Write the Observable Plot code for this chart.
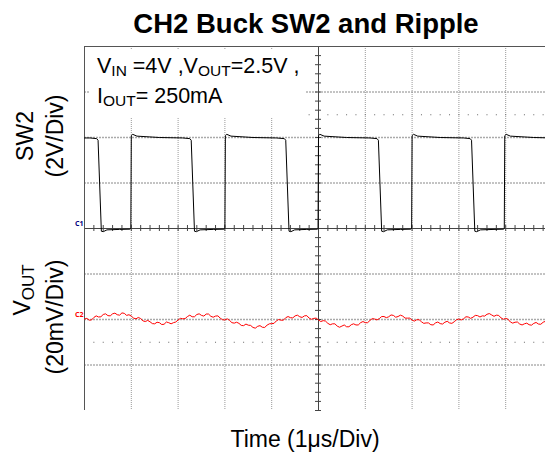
<!DOCTYPE html>
<html><head><meta charset="utf-8">
<script src="https://cdn.jsdelivr.net/npm/d3@7"></script>
<script src="https://cdn.jsdelivr.net/npm/@observablehq/plot@0.6"></script>
<style>
html,body{margin:0;padding:0;background:#fff;overflow:hidden;}
#wrap{position:relative;width:545px;height:453px;overflow:hidden;font-family:"Liberation Sans",Arial,sans-serif;color:#000;}
#wrap svg{position:absolute;left:0;top:0;overflow:hidden;}
.lbl{position:absolute;white-space:nowrap;line-height:1;}
.rot{transform:translate(-50%,-50%) rotate(-90deg);}
#title{left:306px;top:10px;transform:translateX(-50%);font-size:27.5px;font-weight:bold;}
#xlabel{left:305px;top:428px;transform:translateX(-50%);font-size:23px;}
#box{position:absolute;left:89px;top:50px;width:216px;height:68px;background:#fff;}
#note{position:absolute;left:97px;top:51px;font-size:21.5px;line-height:30px;white-space:nowrap;}
.sub{font-size:15.5px;vertical-align:-3px;line-height:0;}
.ylab{font-size:23px;}
.vsub{font-size:17px;vertical-align:-4px;line-height:0;}
</style></head><body><div id="wrap"></div>
<script>
// ---- data (read from the reference scope capture) ----
// time axis: microseconds (1 us / div), 10 divisions
const timeDomain = [0, 10];
const verticalDivs = [-4, 4];
// channel reference levels (in divisions) and scales
const channelNames = ["C1", "C2"];
const channelColors = ["#000080", "#ff0000"];
const channelOffsetDiv = [0, -2];
const sw2VoltsPerDiv = 2;
const rippleMvPerDiv = 20;

// SW2 switching node (V)
const sw2Time = [0.00,0.12,0.26,0.29,0.36,0.40,0.48,0.75,0.97,0.99,1.00,1.03,1.12,1.60,2.10,2.25,2.28,2.35,2.39,2.47,2.75,2.98,3.00,3.01,3.04,3.13,3.60,4.10,4.27,4.30,4.37,4.41,4.49,4.75,4.98,4.99,5.00,5.03,5.12,5.60,6.10,6.25,6.28,6.35,6.39,6.47,6.75,6.97,6.99,7.00,7.03,7.12,7.60,8.10,8.24,8.27,8.34,8.38,8.46,8.75,8.95,8.97,8.98,9.01,9.10,9.60,10.0];
const sw2Volts = [3.98,3.98,3.95,3.88,-0.12,-0.14,-0.06,-0.04,-0.03,0.00,4.08,4.14,4.06,4.00,3.98,3.95,3.88,-0.12,-0.14,-0.06,-0.04,-0.03,0.00,4.08,4.14,4.06,4.00,3.98,3.95,3.88,-0.12,-0.14,-0.06,-0.04,-0.03,0.00,4.08,4.14,4.06,4.00,3.98,3.95,3.88,-0.12,-0.14,-0.06,-0.04,-0.03,0.00,4.08,4.14,4.06,4.00,3.98,3.95,3.88,-0.12,-0.14,-0.06,-0.04,-0.03,0.00,4.08,4.14,4.06,4.00,3.98];

// VOUT ripple (mV, AC around the C2 reference)
const rippleTime = [
0.00,0.05,0.10,0.15,0.20,0.25,0.30,0.35,0.40,0.45,0.50,0.55,0.60,0.65,0.70,0.75,0.80,0.85,0.90,0.95,
1.00,1.05,1.10,1.15,1.20,1.25,1.30,1.35,1.40,1.45,1.50,1.55,1.60,1.65,1.70,1.75,1.80,1.85,1.90,1.95,
2.00,2.05,2.10,2.15,2.20,2.25,2.30,2.35,2.40,2.45,2.50,2.55,2.60,2.65,2.70,2.75,2.80,2.85,2.90,2.95,
3.00,3.05,3.10,3.15,3.20,3.25,3.30,3.35,3.40,3.45,3.50,3.55,3.60,3.65,3.70,3.75,3.80,3.85,3.90,3.95,
4.00,4.05,4.10,4.15,4.20,4.25,4.30,4.35,4.40,4.45,4.50,4.55,4.60,4.65,4.70,4.75,4.80,4.85,4.90,4.95,
5.00,5.05,5.10,5.15,5.20,5.25,5.30,5.35,5.40,5.45,5.50,5.55,5.60,5.65,5.70,5.75,5.80,5.85,5.90,5.95,
6.00,6.05,6.10,6.15,6.20,6.25,6.30,6.35,6.40,6.45,6.50,6.55,6.60,6.65,6.70,6.75,6.80,6.85,6.90,6.95,
7.00,7.05,7.10,7.15,7.20,7.25,7.30,7.35,7.40,7.45,7.50,7.55,7.60,7.65,7.70,7.75,7.80,7.85,7.90,7.95,
8.00,8.05,8.10,8.15,8.20,8.25,8.30,8.35,8.40,8.45,8.50,8.55,8.60,8.65,8.70,8.75,8.80,8.85,8.90,8.95,
9.00,9.05,9.10,9.15,9.20,9.25,9.30,9.35,9.40,9.45,9.50,9.55,9.60,9.65,9.70,9.75,9.80,9.85,9.90,9.95];
const rippleMv = [
0.2,0.5,-0.3,-0.2,0.9,1.6,1.1,1.2,2.2,2.5,1.7,1.6,2.5,2.8,2.1,1.9,2.9,2.7,1.8,2.1,
1.5,0.6,0.3,0.9,0.4,-0.6,-0.9,-0.4,-1.0,-1.8,-1.9,-1.2,-1.4,-2.2,-2.1,-1.1,-1.4,-1.9,-1.4,-1.1,
-0.2,0.5,0.3,0.4,1.3,1.9,1.2,1.2,2.2,2.5,1.8,1.5,2.4,2.4,1.4,1.0,1.5,1.6,0.6,-0.1,
-0.2,0.3,-0.4,-1.4,-1.6,-1.2,-1.7,-2.6,-2.7,-2.0,-2.5,-2.6,-3.5,-3.8,-3.0,-2.7,-3.4,-3.5,-2.5,-1.9,
-1.8,-1.7,-0.6,0.0,-0.3,-0.3,0.8,1.3,0.8,0.7,1.6,1.9,1.2,0.9,1.6,1.7,0.6,0.1,0.5,0.6,
-0.2,-0.9,-0.5,-0.7,-1.7,-2.3,-1.9,-1.9,-2.9,-3.4,-2.9,-2.4,-3.2,-3.2,-2.3,-1.9,-2.4,-2.4,-1.4,-0.9,
-1.4,-1.4,-0.4,0.4,0.2,-0.2,0.4,1.3,1.3,0.8,1.2,2.0,1.8,1.0,1.3,1.9,1.5,0.6,0.6,0.6,
-0.3,-0.7,-0.1,-0.1,-1.0,-1.7,-1.5,-1.5,-2.3,-2.4,-1.5,-1.1,-1.8,-2.0,-1.2,-0.8,-1.5,-1.7,-1.0,-0.1,
0.2,-0.2,0.3,1.2,1.1,0.5,1.0,1.8,1.7,1.1,1.6,1.5,2.3,2.6,2.0,1.4,1.9,1.8,0.7,0.1,
0.5,0.1,-1.1,-1.6,-1.2,-1.1,-2.0,-2.4,-1.9,-1.6,-2.3,-2.5,-1.7,-1.3,-2.0,-2.1,-1.2,-0.8,-1.3,-1.6];

// graticule
const gridX = [1,2,3,4,6,7,8,9];
const gridYFine = [-3,-1,1,3];
const gridYRef = [-2,2];
const dotRowsY = [-2.5,2.5];

// ---- build ----
const sw2 = sw2Time.map((t,i)=>({t, v: sw2Volts[i]/sw2VoltsPerDiv + channelOffsetDiv[0]}));
const ripple = rippleTime.map((t,i)=>({t, v: rippleMv[i]/rippleMvPerDiv + channelOffsetDiv[1]}));
const markers = channelNames.map((n,i)=>({name:n, level:channelOffsetDiv[i], color:channelColors[i]}));
const minorY = d3.range(verticalDivs[0], verticalDivs[1]+0.001, 0.2);
const minorX = d3.range(timeDomain[0], timeDomain[1]+0.001, 0.2);

const chart = Plot.plot({
  width: 545, height: 453,
  marginLeft: 84, marginTop: 46, marginBottom: 43, marginRight: 0,
  style: {background: "transparent", overflow: "hidden"},
  x: {domain: timeDomain, range: [84, 552], axis: null},
  y: {domain: verticalDivs, axis: null},
  marks: [
    Plot.ruleX(gridX, {stroke: "#999", strokeDasharray: "1,1"}),
    Plot.ruleY(gridYFine, {stroke: "#888", strokeDasharray: "2,1"}),
    Plot.ruleY(gridYRef, {stroke: "#aaa", strokeWidth: 1.5, strokeDasharray: "2,1"}),
    Plot.ruleY(dotRowsY, {stroke: "#666", strokeDasharray: "1,8.36"}),
    Plot.ruleX([5], {stroke: "#444"}),
    Plot.ruleY([0], {stroke: "#444"}),
    Plot.ruleY(minorY, {x1: 5, x2: 5, insetLeft: -3, insetRight: -3, stroke: "#444"}),
    Plot.ruleX(minorX, {y1: 0, y2: 0, insetTop: -3, insetBottom: -3, stroke: "#444"}),
    Plot.ruleX([timeDomain[0]], {stroke: "#555"}),
    Plot.ruleY([verticalDivs[1]], {stroke: "#555"}),
    Plot.line(sw2, {x: "t", y: "v", stroke: "#000", strokeWidth: 1}),
    Plot.line(ripple, {x: "t", y: "v", stroke: "#ff0000", strokeWidth: 1}),
    Plot.text(markers, {y: "level", text: "name", fill: "color", frameAnchor: "left", dx: -1, dy: -5, textAnchor: "end", fontSize: 7, fontWeight: "bold"})
  ]
});
const wrap = document.getElementById("wrap");
wrap.appendChild(chart);
wrap.insertAdjacentHTML("beforeend", `
<div id="title" class="lbl">CH2 Buck SW2 and Ripple</div>
<div id="box"></div>
<div id="note">V<span class="sub">IN</span> =4V ,V<span class="sub">OUT</span>=2.5V ,<br>I<span class="sub">OUT</span>= 250mA</div>
<div class="lbl rot ylab" style="left:25px;top:136px">SW2</div>
<div class="lbl rot ylab" style="left:55px;top:136px">(2V/Div)</div>
<div class="lbl rot ylab" style="left:22px;top:290px">V<span class="vsub">OUT</span></div>
<div class="lbl rot ylab" style="left:55px;top:317px">(20mV/Div)</div>
<div id="xlabel" class="lbl">Time (1μs/Div)</div>
`);
</script></body></html>
